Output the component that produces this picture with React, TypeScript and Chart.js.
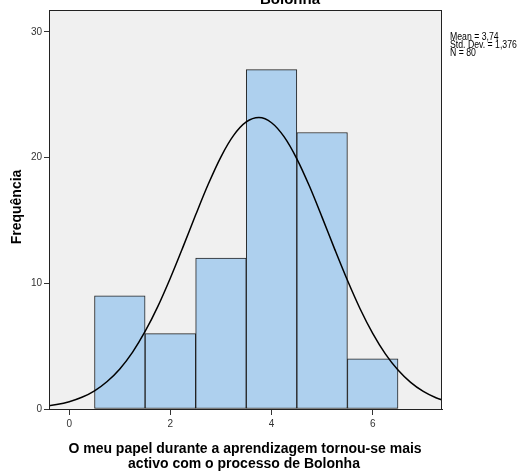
import React, { useEffect, useRef } from "react";
import { Chart, registerables } from "chart.js";

Chart.register(...registerables);

// Histogram bins (centre of each bin) and frequencies
const BIN_CENTERS = [1, 2, 3, 4, 5, 6];
const FREQUENCIES = [9, 6, 12, 27, 22, 4];

// Fitted normal curve (x, frequency)
const CURVE_X = [
  -0.5, -0.25, 0, 0.25, 0.5, 0.75, 1, 1.25, 1.5, 1.75, 2, 2.25, 2.5, 2.75, 3, 3.25, 3.5, 3.75,
  4, 4.25, 4.5, 4.75, 5, 5.25, 5.5, 5.75, 6, 6.25, 6.5, 6.75, 7, 7.25, 7.5,
];
const CURVE_Y = [
  0.2, 0.35, 0.58, 0.93, 1.45, 2.19, 3.19, 4.51, 6.17, 8.15, 10.43, 12.9, 15.45, 17.9, 20.07,
  21.77, 22.84, 23.19, 22.78, 21.65, 19.91, 17.72, 15.25, 12.7, 10.24, 7.98, 6.02, 4.39, 3.1,
  2.12, 1.4, 0.9, 0.56,
];

const X_TICKS = [0, 2, 4, 6];
const Y_TICKS = [0, 10, 20, 30];

const TITLE = "Bolonha";
const STATS = ["Mean = 3,74", "Std. Dev. = 1,376", "N = 80"];
const X_TITLE = ["O meu papel durante a aprendizagem tornou-se mais", "activo com o processo de Bolonha"];
const Y_TITLE = "Frequência";

const FONT = "'Liberation Sans', Arial, sans-serif";

export default function App() {
  const ref = useRef<HTMLCanvasElement | null>(null);

  useEffect(() => {
    document.body.style.margin = "0";
    const canvas = ref.current;
    if (!canvas) return;

    const decor = {
      id: "decor",
      beforeDraw(chart: any) {
        const { ctx, chartArea: a } = chart;
        ctx.save();
        ctx.fillStyle = "#F0F0F0";
        ctx.fillRect(a.left, a.top, a.right - a.left, a.bottom - a.top);
        ctx.restore();
      },
      afterDraw(chart: any) {
        const { ctx, chartArea: a } = chart;
        ctx.save();
        ctx.strokeStyle = "#222";
        ctx.lineWidth = 1;
        ctx.strokeRect(Math.round(a.left) + 0.5, Math.round(a.top) + 0.5, Math.round(a.right - a.left) - 1, Math.round(a.bottom - a.top));
        // title (partially cut at the top)
        ctx.fillStyle = "#000";
        ctx.font = `bold 15px ${FONT}`;
        ctx.textAlign = "center";
        ctx.textBaseline = "alphabetic";
        ctx.fillText(TITLE, 290, 3.5);
        // stats
        ctx.font = `10px ${FONT}`;
        ctx.textAlign = "left";
        STATS.forEach((s, i) => {
          ctx.save();
          ctx.translate(450, 40 + i * 8.2);
          ctx.scale(0.87, 1);
          ctx.fillText(s, 0, 0);
          ctx.restore();
        });
        // x title
        ctx.font = `bold 14px ${FONT}`;
        ctx.textAlign = "center";
        ctx.fillText(X_TITLE[0], 245, 453, 356);
        ctx.fillText(X_TITLE[1], 244, 468, 233);
        // y title
        ctx.save();
        ctx.translate(21, 207);
        ctx.rotate(-Math.PI / 2);
        ctx.fillText(Y_TITLE, 0, 0);
        ctx.restore();
        ctx.restore();
      },
    };

    const chart = new Chart(canvas, {
      data: {
        datasets: [
          {
            type: "line",
            data: CURVE_X.map((x, i) => ({ x, y: CURVE_Y[i] })),
            borderColor: "#000",
            borderWidth: 1.5,
            pointRadius: 0,
            fill: false,
            cubicInterpolationMode: "monotone",
            order: 0,
          } as any,
          {
            type: "bar",
            data: BIN_CENTERS.map((x, i) => ({ x, y: FREQUENCIES[i] })),
            backgroundColor: "#AED0EE",
            borderColor: "#222",
            borderWidth: 1,
            borderSkipped: false,
            barPercentage: 1,
            categoryPercentage: 1,
            grouped: false,
            order: 1,
          } as any,
        ],
      },
      options: {
        responsive: false,
        animation: false,
        devicePixelRatio: 1,
        layout: { padding: { left: 0, right: 87, top: 10, bottom: 0 } },
        plugins: { legend: { display: false }, tooltip: { enabled: false }, title: { display: false } },
        scales: {
          x: {
            type: "linear",
            offset: false,
            min: -0.4,
            max: 7.37,
            afterBuildTicks: (s: any) => {
              s.ticks = X_TICKS.map((v) => ({ value: v }));
            },
            afterFit: (s: any) => {
              s.height = 63;
            },
            grid: { display: true, offset: false, drawOnChartArea: false, drawTicks: true, tickLength: 6, color: "#333" },
            border: { display: true, color: "#222", width: 1 },
            ticks: { color: "#333", font: { size: 10, family: FONT }, padding: 3, maxRotation: 0 },
          },
          y: {
            type: "linear",
            min: 0,
            max: 31.75,
            afterBuildTicks: (s: any) => {
              s.ticks = Y_TICKS.map((v) => ({ value: v }));
            },
            afterFit: (s: any) => {
              s.width = 49;
            },
            grid: { display: true, drawOnChartArea: false, drawTicks: true, tickLength: 5, color: "#333" },
            border: { display: true, color: "#222", width: 1 },
            ticks: { color: "#333", font: { size: 10, family: FONT }, padding: 2 },
          },
        },
      },
      plugins: [decor],
    } as any);

    return () => chart.destroy();
  }, []);

  return <canvas ref={ref} width={529} height={472} style={{ display: "block", width: 529, height: 472 }} />;
}
